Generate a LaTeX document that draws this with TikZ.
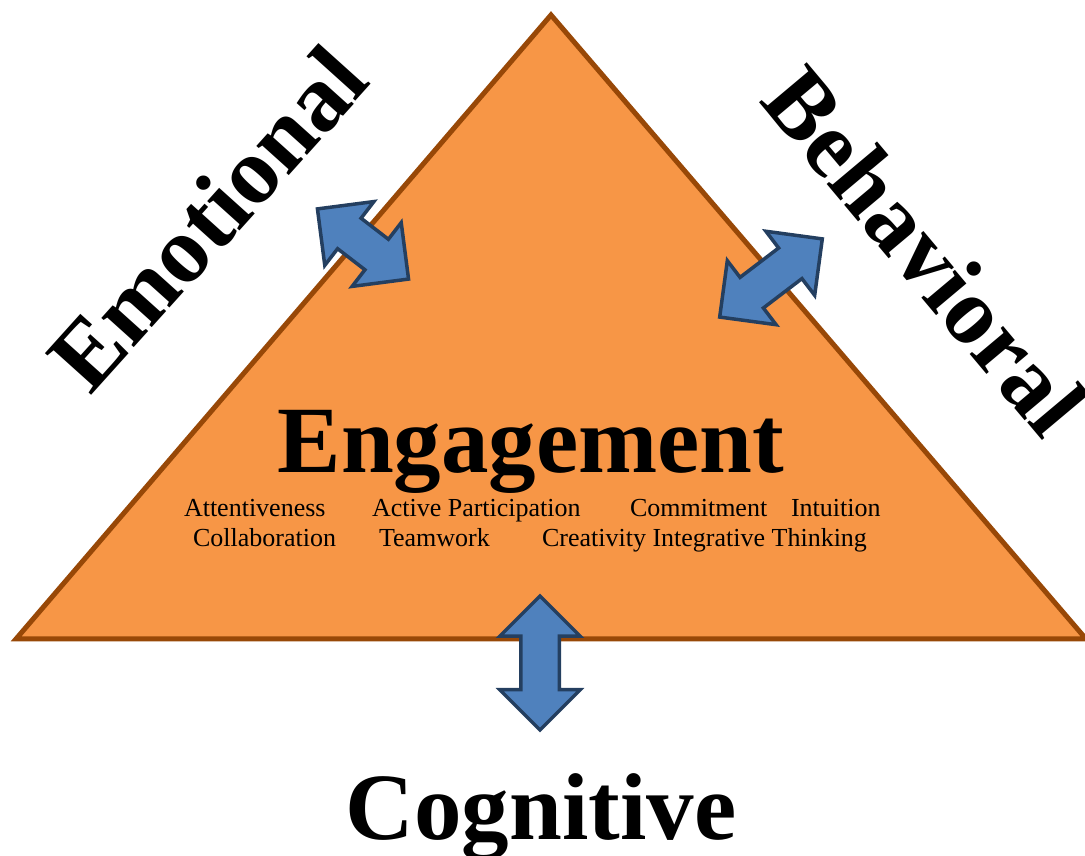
\documentclass[tikz,border=0pt]{standalone}
\usepackage{fontspec}
\setmainfont{Liberation Serif}
\usetikzlibrary{shapes.arrows}
\definecolor{engorange}{HTML}{F79646}
\definecolor{engbrown}{HTML}{984807}
\definecolor{arrowblue}{HTML}{4F81BD}
\definecolor{arrowline}{HTML}{243F60}

\begin{document}
\begin{tikzpicture}[x=1pt, y=1pt,
  every node/.style = {inner sep=0, outer sep=0},
  big/.style = {font=\fontsize{95}{95}\selectfont\bfseries},
  small/.style = {font=\fontsize{26}{30}\selectfont, anchor=base west},
  twoway/.style = {double arrow, draw=arrowline, fill=arrowblue,
    line width=3.5, minimum width=77, inner xsep=0, inner ysep=17.5,
    double arrow head extend=21, double arrow tip angle=90}]
  \useasboundingbox (0,0) rectangle (1085,856);
  % the triangle
  \coordinate (top) at (551,841);
  \coordinate (left) at (16,217);
  \coordinate (right) at (1086,217);
  \draw[fill=engorange, draw=engbrown, line width=5] (top) -- (right) -- (left) -- cycle;
  % two-way arrows
  \node[twoway, minimum height=115, rotate=-37.6] (emoarrow) at (363,612) {};
  \node[twoway, minimum height=129, rotate=37.3] (behavarrow) at (771,578) {};
  \node[twoway, minimum height=134, rotate=90] (cogarrow) at (540,193) {};
  % labels
  \node[big, anchor=base] (engagement) at (531,383) {Engagement};
  \node[big, anchor=base] (cognitive) at (541,16) {Cognitive};
  \node[big, anchor=base west, rotate=48] (emotional) at (90,459) {Emotional};
  \node[big, anchor=base west, rotate=-50] (behavioral) at (758,754) {Behavioral};
  \node[small] (attent) at (184,339) {Attentiveness};
  \node[small] (active) at (372,339) {Active Participation};
  \node[small] (commit) at (630,339) {Commitment};
  \node[small] (intuit) at (791,339) {Intuition};
  \node[small] (collab) at (193,309) {Collaboration};
  \node[small] (team) at (379,309) {Teamwork};
  \node[small] (creat) at (542,309) {Creativity Integrative Thinking};
\end{tikzpicture}
\end{document}
